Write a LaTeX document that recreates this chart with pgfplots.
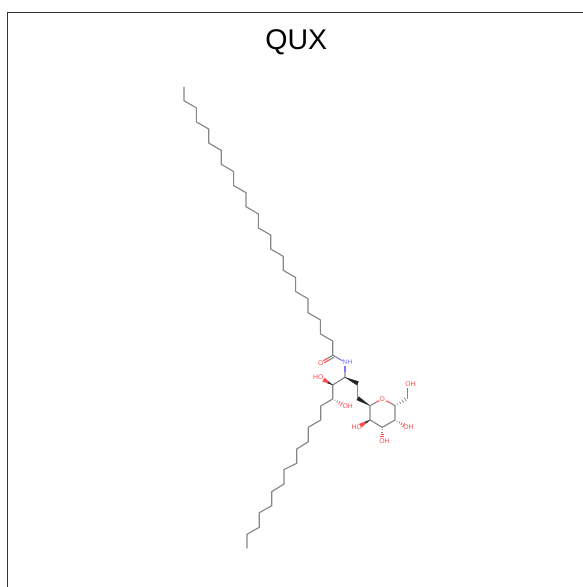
\documentclass[border=0pt]{standalone}
\usepackage{fontspec}
\setmainfont{Liberation Sans}
\newfontfamily\lab{Liberation Sans}
\usepackage{pgfplots}
\pgfplotsset{compat=1.18}
\definecolor{bondgray}{HTML}{868686}
\definecolor{hetred}{HTML}{FF4A4A}
\definecolor{hetblue}{HTML}{7A7AFF}
\definecolor{wedge}{HTML}{242424}
\tikzset{atom/.style={font=\lab\fontsize{6.8bp}{7bp}\selectfont, text=hetred, inner sep=0pt}}
\begin{document}
\begin{tikzpicture}
\useasboundingbox (0,0) rectangle (583bp,587bp);
\begin{axis}[
  at={(0,0)}, anchor=south west,
  scale only axis, width=583bp, height=587bp,
  xmin=0, xmax=583, ymin=0, ymax=587, y dir=reverse,
  hide axis, clip=false, unbounded coords=jump,
  bond/.style={no marks, color=bondgray, line width=1.15bp, line join=miter},
  red bond/.style={no marks, color=hetred, line width=1.05bp},
  blue bond/.style={no marks, color=hetblue, line width=1.05bp},
  hash/.style={no marks, color=bondgray, line width=0.7bp},
  red hash/.style={no marks, color=hetred, line width=0.7bp},
  solid wedge/.style={no marks, draw=wedge, fill=wedge, line width=0.2bp},
  red wedge/.style={no marks, draw=hetred, fill=hetred, line width=0.2bp},
]
% frame
\addplot[no marks, color=black!80, line width=1.2bp] coordinates {(7.5,587)(7.5,12.7)(583,12.7)};
% fatty chain
\addplot[bond] coordinates {
(184,86.7)(184,100.7)(196.4,107.9)(196.4,121.9)(208.8,129.1)(208.8,143.1)
(221.2,150.3)(221.2,164.3)(233.6,171.5)(233.6,185.5)(246,192.7)(246,206.7)
(258.4,213.9)(258.4,227.9)(270.8,235.1)(270.8,249.1)(283.2,256.3)(283.2,270.3)
(295.6,277.5)(295.6,291.5)(308,298.7)(308,312.7)(320.4,319.9)(320.4,333.9)
(332.8,341.1)(332.8,355.3)(338,358.2)};
\addplot[blue bond] coordinates {(338,358.2)(342.6,360.8)};
% C=O
\addplot[bond] coordinates {(332.8,355.3)(327.9,358.1)};
\addplot[red bond] coordinates {(327.9,358.1)(323.4,360.7)};
\addplot[bond] coordinates {(333.8,357.3)(328.9,360.1)};
\addplot[red bond] coordinates {(328.9,360.1)(324.4,362.7)};
% N-C2, backbone
\addplot[blue bond] coordinates {(345,366.2)(345,371.5)};
\addplot[bond] coordinates {(345,371.5)(345,377.3)(332.7,385)(332.7,399)(320.7,406)(320.7,420)
(308.3,427.3)(308.3,441.7)(296.7,449)(296.7,463.3)(284,469.5)(284,484)(271.7,491.7)(271.7,505.7)
(259.3,512.7)(259.3,527.3)(247,534.3)(247,548.3)};
\addplot[bond] coordinates {(357.7,383.3)(357.7,398.3)};
% wedges
\addplot[solid wedge] coordinates {(345,377.3)(356.8,385.1)(358.6,381.5)} -- cycle;
\addplot[solid wedge] coordinates {(370,405.7)(356.7,400)(358.7,396.6)} -- cycle;
\addplot[solid wedge] coordinates {(332.7,385)(327.6,383.2)(328.6,381.5)} -- cycle;
\addplot[red wedge] coordinates {(327.6,383.2)(328.6,381.5)(324.5,378)(322.5,381.4)} -- cycle;
\addplot[solid wedge] coordinates {(370,420)(365.75,423.6)(364.75,421.9)} -- cycle;
\addplot[red wedge] coordinates {(365.75,423.6)(364.75,421.9)(359.5,423.8)(361.5,427.2)} -- cycle;
% sugar ring
\addplot[bond] coordinates {(376.2,402.3)(370,405.7)(370,420)(382.3,427.3)(395,420)(395,405.7)(390.5,403.0)};
\addplot[red bond] coordinates {(376.2,402.3)(379,400.8)};
\addplot[red bond] coordinates {(390.5,403.0)(386,400.8)};
% CH2OH
\addplot[bond] coordinates {(407.4,398.5)(407.4,393)};
\addplot[red bond] coordinates {(407.4,393)(407.4,388.2)};
% hashed bonds
\addplot[hash] coordinates {(397.2,403.6)(398,404.8)(nan,nan)(399.5,401.6)(400.7,403.6)(nan,nan)(401.8,399.6)(403.6,402.6)(nan,nan)(404.2,397.6)(406.4,401.4)};
\addplot[hash] coordinates {(334.6,400.8)(335.2,399.8)(nan,nan)(336.55,402.5)(337.65,400.5)};
\addplot[red hash] coordinates {(338.4,404.2)(340,401.4)(nan,nan)(340.35,405.8)(342.45,402.2)};
\addplot[hash] coordinates {(396.9,421.8)(397.5,420.8)(nan,nan)(398.85,423.5)(399.95,421.5)};
\addplot[red hash] coordinates {(400.7,425.2)(402.3,422.4)(nan,nan)(402.65,426.8)(404.75,423.2)};
\addplot[hash] coordinates {(381.7,429.8)(382.9,429.8)(nan,nan)(381.2,432.3)(383.4,432.3)};
\addplot[red hash] coordinates {(380.7,434.6)(383.9,434.6)(nan,nan)(380.2,436.8)(384.4,436.8)};
% labels
\node[font=\fontsize{28.5bp}{30bp}\selectfont, text=black, inner sep=0pt, anchor=base] at (axis cs:296.3,50) {QUX};
\node[atom] at (axis cs:410.5,384.5) {OH};
\node[atom] at (axis cs:408.5,426.7) {OH};
\node[atom] at (axis cs:384.5,440.7) {OH};
\node[atom] at (axis cs:356.7,426.7) {HO};
\node[atom] at (axis cs:318.3,376.7) {HO};
\node[atom] at (axis cs:347.8,406) {OH};
\node[atom] at (axis cs:320.7,362.7) {O};
\node[atom] at (axis cs:382.3,399) {O};
\node[atom, text=hetblue] at (axis cs:347.5,362.3) {NH};
\end{axis}
\end{tikzpicture}
\end{document}
